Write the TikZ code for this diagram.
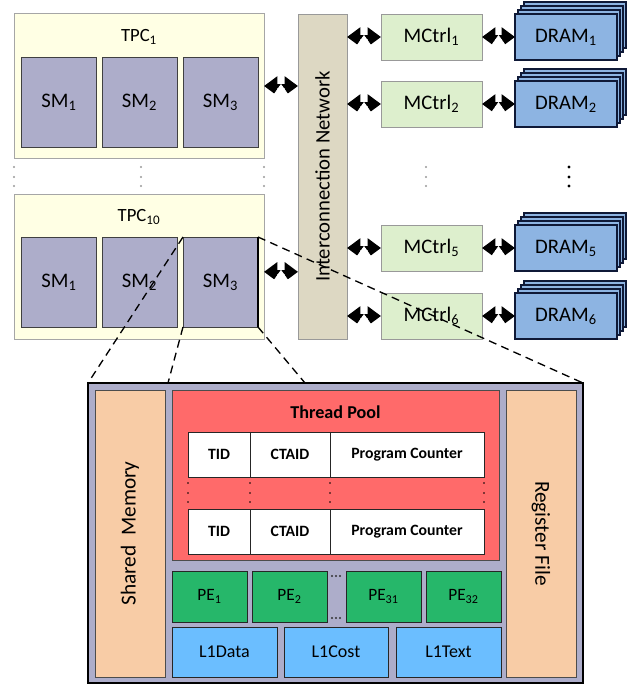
\documentclass[tikz,border=0pt]{standalone}
\usepackage{fontspec}
\setmainfont{Carlito}
\usetikzlibrary{arrows.meta,positioning,calc,decorations.markings}

\definecolor{tpcfill}{RGB}{255,255,228}
\definecolor{smfill}{RGB}{173,173,202}
\definecolor{netfill}{RGB}{221,216,195}
\definecolor{mcfill}{RGB}{221,239,205}
\definecolor{dramfill}{RGB}{141,180,226}
\definecolor{dramline}{RGB}{15,25,55}
\definecolor{memfill}{RGB}{248,204,166}
\definecolor{poolfill}{RGB}{255,106,106}
\definecolor{pefill}{RGB}{38,183,106}
\definecolor{lonefill}{RGB}{107,190,255}

\begin{document}
\begin{tikzpicture}[x=0.75pt,y=-0.75pt,
		box/.style={draw,inner sep=0pt,outer sep=0pt,font=\fontsize{15.5}{17}\selectfont},
		tpc box/.style={box,draw=black!35,fill=tpcfill,minimum width=187.5pt,minimum height=108.75pt},
		sm node/.style={box,draw=black!75,fill=smfill,minimum width=56.25pt,minimum height=67.5pt},
		net node/.style={box,draw=black!40,fill=netfill,rotate=90,minimum width=243.75pt,minimum height=36.75pt},
		mc node/.style={box,draw=black!40,fill=mcfill,minimum width=75.75pt,minimum height=34.5pt},
		dram node/.style={box,draw=dramline,fill=dramfill,minimum width=76.5pt,minimum height=34.5pt},
		mem node/.style={box,draw=black!70,fill=memfill,minimum width=215.25pt,minimum height=52.5pt,font=\fontsize{16}{18}\selectfont},
		cell/.style={box,draw=black!85,fill=white,minimum height=33.75pt,font=\fontsize{11.8}{13}\selectfont\bfseries},
		pe node/.style={box,draw=black!85,fill=pefill,minimum width=56.25pt,minimum height=38.25pt,font=\fontsize{13}{15}\selectfont},
		l1 node/.style={box,draw=black!85,fill=lonefill,minimum width=78.75pt,minimum height=37.5pt,font=\fontsize{13.5}{15}\selectfont},
		link/.style={line width=3pt,arrows={Triangle[length=10pt,width=14pt]-Triangle[length=10pt,width=14pt]},
			postaction={decorate,decoration={markings,mark=at position 0.5 with {\draw[white,line width=0.5pt] (0,-1.5pt) -- (0,1.5pt);}}}},
		zoom line/.style={line width=1pt,dash pattern=on 6pt off 4pt}]
	
	\useasboundingbox (0,0) rectangle (640,687);
	
	% TPCs
	\node[tpc box] (tpc1) at (139,86) {};
	\node[font=\fontsize{14}{16}\selectfont] (tpc1 name) at (139,37) {TPC\textsubscript{1}};
	\node[sm node] (sm11) at (59,102) {SM\textsubscript{1}};
	\node[sm node] (sm12) at (139.5,102) {SM\textsubscript{2}};
	\node[sm node] (sm13) at (220.5,102) {SM\textsubscript{3}};
	
	\node[tpc box] (tpc10) at (139,266.5) {};
	\node[font=\fontsize{14}{16}\selectfont] (tpc10 name) at (139,217) {TPC\textsubscript{10}};
	\node[sm node] (sm101) at (59,282) {SM\textsubscript{1}};
	\node[sm node] (sm102) at (139.5,282) {SM\textsubscript{2}};
	\node[sm node] (sm103) at (220.5,282) {SM\textsubscript{3}};
	\draw[line width=1.2pt] (sm103.north east) -- (sm103.south east);
	
	\foreach \x in {14,141,264}
	\foreach \y in {167,177,186}
	\fill[black!40] (\x,\y) circle (0.8pt);
	
	% network and memory side
	\node[net node] (net) at (322.5,176.5) {Interconnection Network};
	
	\foreach \y/\n in {37/1,104/2,248/5,316/6}{
		\foreach \k in {3,2,1}
		\draw[dramline,fill=dramfill,line width=0.8pt] (515+3*\k,\y-23-4*\k) rectangle ++(102,46);
		\node[dram node,line width=0.8pt] (dram\n) at (566,\y) {DRAM\textsubscript{\n}};
		\node[mc node] (mc\n) at (431.5,\y) {MCtrl\textsubscript{\n}};
		\draw[link] (mc\n.west -| net.south) -- (mc\n.west);
		\draw[link] (mc\n) -- (dram\n);
	}
	
	\foreach \y in {167,177,186}{
		\fill[black!40] (426,\y) circle (0.8pt);
		\fill[black] (569,\y) circle (1.2pt);
	}
	
	\draw[link] (tpc1.east) -- (tpc1.east -| net.north);
	\draw[link] ([yshift=-4pt]tpc10.east) -- ([yshift=-4pt]tpc10.east -| net.north);
	
	% SM detail
	\node[box,draw=black,line width=1.5pt,fill=smfill,minimum width=371.25pt,minimum height=225pt] (smbig) at (335.5,533) {};
	\node[mem node,rotate=90] (shmem) at (130,533.5) {Shared~~Memory};
	\node[mem node,rotate=-90] (regfile) at (541,533.5) {Register File};
	
	\node[box,draw=black!70,fill=poolfill,minimum width=245.25pt,minimum height=127.5pt] (pool) at (335.5,475) {};
	\node[font=\fontsize{13.6}{15}\selectfont\bfseries] (pool name) at (335.5,412) {Thread Pool};
	
	\foreach \r/\y in {1/454.5,2/531.5}{
		\node[cell,minimum width=46.5pt] (tid\r) at (219,\y) {TID};
		\node[cell,minimum width=60pt,right=0pt of tid\r] (cta\r) {CTAID};
		\node[cell,minimum width=115.5pt,right=0pt of cta\r] (pc\r) {Program Counter};
	}
	\foreach \x in {188,250,330,484}
	\foreach \y in {483,493,502}
	\fill[black] (\x,\y) circle (0.7pt);
	
	\node[pe node] (pe1) at (209.5,596.5) {PE\textsubscript{1}};
	\node[pe node,right=3.75pt of pe1] (pe2) {PE\textsubscript{2}};
	\node[pe node] (pe31) at (383.5,596.5) {PE\textsubscript{31}};
	\node[pe node,right=3.75pt of pe31] (pe32) {PE\textsubscript{32}};
	\foreach \y in {576,618}
	\foreach \x in {332,336,340}
	\fill[black!80] (\x,\y) circle (0.8pt);
	
	\node[l1 node] (l1data) at (224.5,652) {L1Data};
	\node[l1 node,minimum width=78pt] (l1cost) at (336,652) {L1Cost};
	\node[l1 node] (l1text) at (448.5,652) {L1Text};
	
	% zoom lines
	\coordinate (z2) at (168,383);
	\coordinate (z3) at (305,383);
	\draw[zoom line] (sm103.north west) -- (smbig.north west);
	\draw[zoom line] (sm103.south west) -- (z2);
	\draw[zoom line] (sm103.south east) -- (z3);
	\draw[zoom line] (sm103.north east) -- (smbig.north east);
\end{tikzpicture}
\end{document}
